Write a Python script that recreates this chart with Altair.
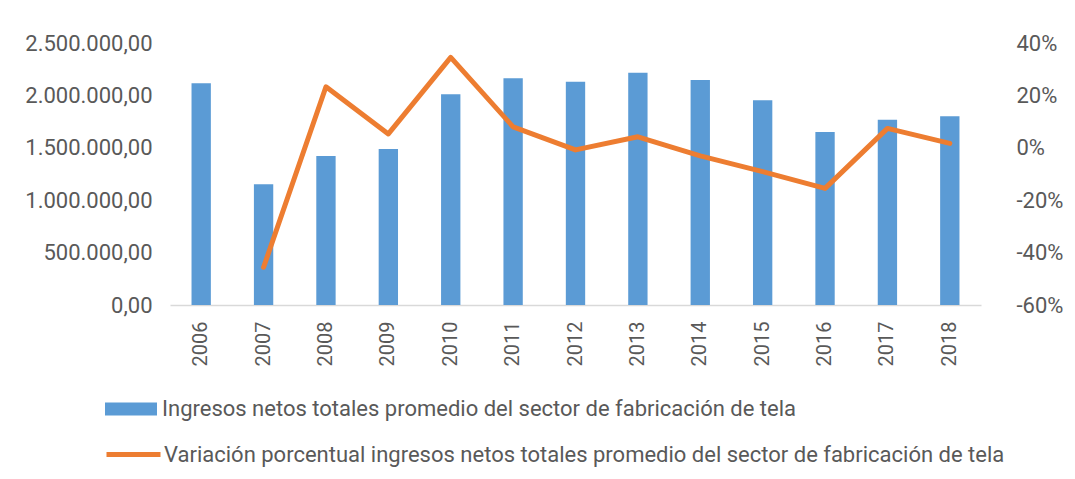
import altair as alt
import pandas as pd

years = ["2006", "2007", "2008", "2009", "2010", "2011", "2012",
         "2013", "2014", "2015", "2016", "2017", "2018"]
ingresos = [2115000, 1152000, 1422000, 1489000, 2010000, 2163000, 2131000,
            2217000, 2147000, 1953000, 1651000, 1768000, 1800000]
variacion = [None, -0.456, 0.233, 0.053, 0.345, 0.080, -0.008,
             0.042, -0.031, -0.091, -0.155, 0.074, 0.017]

left_ticks = [0, 500000, 1000000, 1500000, 2000000, 2500000]
right_ticks = [-0.6, -0.4, -0.2, 0.0, 0.2, 0.4]

label_bar = "Ingresos netos totales promedio del sector de fabricación de tela"
label_line = "Variación porcentual ingresos netos totales promedio del sector de fabricación de tela"

BLUE = "#5B9BD5"
ORANGE = "#ED7D31"
TXT = "#595959"
FONT = "Roboto"

df = pd.DataFrame({"year": years, "ingresos": ingresos, "variacion": variacion})
df["serie_b"] = label_bar
df["serie_l"] = label_line

x_enc = alt.X(
    "year:O",
    title=None,
    scale=alt.Scale(paddingInner=0.69, paddingOuter=0.345),
    axis=alt.Axis(labelAngle=270, labelFontSize=20, labelFont=FONT, labelColor=TXT,
                  ticks=False, tickSize=0, labelPadding=16, domainColor="#D9D9D9",
                  domainWidth=1.5, grid=False),
)

bars = alt.Chart(df).mark_bar().encode(
    x=x_enc,
    y=alt.Y("ingresos:Q", title=None,
            scale=alt.Scale(domain=[0, 2500000], nice=False),
            axis=alt.Axis(values=left_ticks, format=",.2f", labelFontSize=22,
                          labelFont=FONT, labelColor=TXT, ticks=False, tickSize=0,
                          labelPadding=18, domain=False, grid=False, orient="left")),
    fill=alt.Fill("serie_b:N",
                  scale=alt.Scale(domain=[label_bar], range=[BLUE]),
                  legend=alt.Legend(orient="none", legendX=-65, legendY=340, title=None,
                                    symbolType="M-1,-0.25H1V0.25H-1Z", symbolSize=2704,
                                    symbolStrokeWidth=0, symbolOpacity=1,
                                    labelFontSize=22, labelFont=FONT, labelColor=TXT,
                                    labelLimit=1000, padding=0, labelOffset=5)),
)

line = alt.Chart(df).transform_filter("isValid(datum.variacion)").mark_line(
    strokeWidth=5, strokeCap="round", strokeJoin="round"
).encode(
    x=x_enc,
    y=alt.Y("variacion:Q", title=None,
            scale=alt.Scale(domain=[-0.6, 0.4], nice=False),
            axis=alt.Axis(values=right_ticks, format=".0%", labelFontSize=22,
                          labelFont=FONT, labelColor=TXT, ticks=False, tickSize=0,
                          labelPadding=35, domain=False, grid=False, orient="right",
                          labelAlign="left")),
    stroke=alt.Stroke("serie_l:N",
                      scale=alt.Scale(domain=[label_line], range=[ORANGE]),
                      legend=alt.Legend(orient="none", legendX=-66, legendY=382, title=None,
                                        symbolType="stroke", symbolSize=2916,
                                        symbolStrokeWidth=5, symbolStrokeColor=ORANGE,
                                        labelFontSize=22, labelFont=FONT, labelColor=TXT,
                                        labelLimit=1000, padding=0, labelOffset=1)),
)

chart = alt.layer(bars, line).resolve_scale(y="independent").properties(
    width=811,
    height=262,
    autosize=alt.AutoSizeParams(type="none"),
    padding={"left": 162, "top": 35, "right": 86, "bottom": 165},
).configure(
    view=alt.ViewConfig(strokeWidth=0, stroke="transparent"),
    locale={"number": {"decimal": ",", "thousands": ".", "grouping": [3],
                       "currency": ["", " €"], "minus": "-"}},
)

chart.save("out.html", embed_options={"renderer": "svg", "actions": False})
